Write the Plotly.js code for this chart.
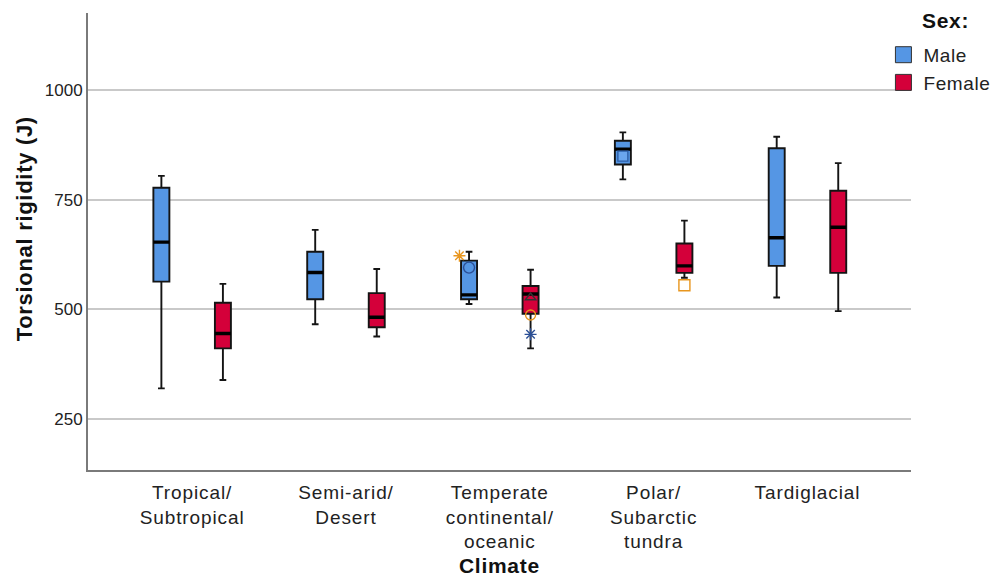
<!DOCTYPE html>
<html>
<head>
<meta charset="utf-8">
<script src="https://cdn.plot.ly/plotly-3.0.1.min.js"></script>
<style>
  html, body { margin: 0; padding: 0; background: #ffffff; }
  #chart { width: 996px; height: 581px; }
  .xtick text { letter-spacing: 0.9px; }
  .legendtext { letter-spacing: 0.6px; }
  .annotation-text { letter-spacing: 0.7px; }
</style>
</head>
<body>
<div id="chart"></div>
<script>
// Climate groups (x categories)
const climates = [
  'Tropical/<br>Subtropical',
  'Semi-arid/<br>Desert',
  'Temperate<br>continental/<br>oceanic',
  'Polar/<br>Subarctic<br>tundra',
  'Tardiglacial'
];

// Box statistics of torsional rigidity (J), male
const maleLower  = [320, 466, 512, 796, 527];
const maleQ1     = [563, 523, 523, 830, 599];
const maleMedian = [653, 584, 533, 865, 663];
const maleQ3     = [777, 631, 611, 884, 867];
const maleUpper  = [804, 681, 631, 903, 893];

// Box statistics of torsional rigidity (J), female
const femaleLower  = [339, 438, 411, 572, 496];
const femaleQ1     = [411, 459, 490, 583, 583];
const femaleMedian = [445, 482, 535, 599, 687];
const femaleQ3     = [515, 537, 553, 650, 770];
const femaleUpper  = [558, 592, 590, 702, 833];

// Individually flagged cases
const maleStarClimate = [climates[2]];
const maleStarValue = [622];
const maleCircleClimate = [climates[2]];
const maleCircleValue = [595];
const maleSquareClimate = [climates[3]];
const maleSquareValue = [849];

const femaleTriClimate = [climates[2]];
const femaleTriValue = [527];
const femaleCircleClimate = [climates[2]];
const femaleCircleValue = [487];
const femaleStarClimate = [climates[2]];
const femaleStarValue = [443];
const femaleSquareClimate = [climates[3]];
const femaleSquareValue = [555];

const MALE = '#5596e4';
const FEMALE = '#d4003a';
const EDGE = '#141414';
const ORANGE = '#e8961e';
const NAVY = '#2b4f96';

function statBox(group, color, lo, q1, med, q3, hi) {
  return {
    type: 'box', x: climates,
    lowerfence: lo, q1: q1, median: med, q3: q3, upperfence: hi,
    offsetgroup: group, fillcolor: color,
    line: { color: EDGE, width: 1.9 },
    whiskerwidth: 0.42, boxpoints: false, showlegend: false,
    hoverinfo: 'y'
  };
}

// Heavier median bar drawn over each box
function medianBar(group, med) {
  return {
    type: 'box', x: climates,
    lowerfence: med, q1: med, median: med, q3: med, upperfence: med,
    offsetgroup: group, fillcolor: 'rgba(0,0,0,0)',
    line: { color: '#000000', width: 3.4 },
    whiskerwidth: 0, boxpoints: false, showlegend: false,
    hoverinfo: 'skip'
  };
}

// Single flagged points, placed in the same offset slot as their sex's box
function flagged(group, xs, ys, symbol, size, fill, edge, pos) {
  return {
    type: 'box', x: xs, y: ys, offsetgroup: group,
    boxpoints: 'all', jitter: 0, pointpos: pos || 0,
    fillcolor: 'rgba(0,0,0,0)', line: { width: 0, color: 'rgba(0,0,0,0)' },
    marker: { symbol: symbol, size: size, color: fill, line: { color: edge, width: 1.4 } },
    showlegend: false, hoverinfo: 'y'
  };
}

// Legend swatches
function swatch(name, color) {
  return {
    type: 'scatter', mode: 'markers', name: name, x: [null], y: [null],
    marker: { symbol: 'square', size: 16, color: color, line: { color: '#333333', width: 1 } },
    showlegend: true
  };
}

const data = [
  statBox('m', MALE, maleLower, maleQ1, maleMedian, maleQ3, maleUpper),
  statBox('f', FEMALE, femaleLower, femaleQ1, femaleMedian, femaleQ3, femaleUpper),
  medianBar('m', maleMedian),
  medianBar('f', femaleMedian),
  flagged('m', maleCircleClimate, maleCircleValue, 'circle-open', 11, NAVY, NAVY),
  flagged('m', maleStarClimate, maleStarValue, 'asterisk-open', 10, ORANGE, ORANGE, -1.2),
  flagged('m', maleSquareClimate, maleSquareValue, 'square', 10, '#6aa6ee', '#2d5fa8'),
  flagged('f', femaleTriClimate, femaleTriValue, 'triangle-up-open', 9, '#333333', '#333333'),
  flagged('f', femaleCircleClimate, femaleCircleValue, 'circle-open', 10, ORANGE, ORANGE),
  flagged('f', femaleStarClimate, femaleStarValue, 'asterisk-open', 10, NAVY, NAVY),
  flagged('f', femaleSquareClimate, femaleSquareValue, 'square', 11, '#ffffff', ORANGE),
  swatch('Male', MALE),
  swatch('Female', FEMALE)
];

const layout = {
  width: 996, height: 581,
  margin: { l: 88, r: 85, t: 13, b: 111, autoexpand: false },
  paper_bgcolor: '#ffffff', plot_bgcolor: '#ffffff',
  font: { family: '"Liberation Sans", Arial, sans-serif', color: '#222222' },
  boxmode: 'group', boxgap: 0.2, boxgroupgap: 0.74,
  showlegend: true,
  xaxis: {
    type: 'category', categoryorder: 'array', categoryarray: climates,
    range: [-0.677, 4.673],
    showline: true, linecolor: '#7a7a7a', linewidth: 2,
    showgrid: false, zeroline: false, ticks: '',
    ticklabelstandoff: 4,
    tickfont: { size: 19, color: '#222222' }
  },
  yaxis: {
    range: [134, 1175],
    tickvals: [250, 500, 750, 1000],
    showline: true, linecolor: '#7a7a7a', linewidth: 2,
    showgrid: true, gridcolor: '#c9c9c9', gridwidth: 1.5,
    zeroline: false, ticks: '',
    tickfont: { size: 17, color: '#222222' }
  },
  legend: {
    x: 0.9665, xanchor: 'left', y: 0.95, yanchor: 'top',
    bgcolor: 'rgba(255,255,255,0)', borderwidth: 0,
    font: { size: 19, color: '#222222' },
    tracegroupgap: 0, itemwidth: 30
  },
  annotations: [
    {
      text: 'Sex:', xref: 'paper', yref: 'paper', x: 1.0105, y: 1.014,
      xanchor: 'left', yanchor: 'top', showarrow: false,
      font: { size: 21, color: '#111111', weight: 'bold' }
    },
    {
      text: 'Climate', xref: 'paper', yref: 'paper', x: 0.4995, y: -0.21,
      xanchor: 'center', yanchor: 'middle', showarrow: false,
      font: { size: 21, color: '#111111', weight: 'bold' }
    },
    {
      text: 'Torsional rigidity (J)', xref: 'paper', yref: 'paper', x: -0.077, y: 0.528,
      xanchor: 'center', yanchor: 'middle', textangle: -90, showarrow: false,
      font: { size: 22, color: '#111111', weight: 'bold' }
    }
  ]
};

Plotly.newPlot('chart', data, layout, { displayModeBar: false, responsive: false });
</script>
</body>
</html>
